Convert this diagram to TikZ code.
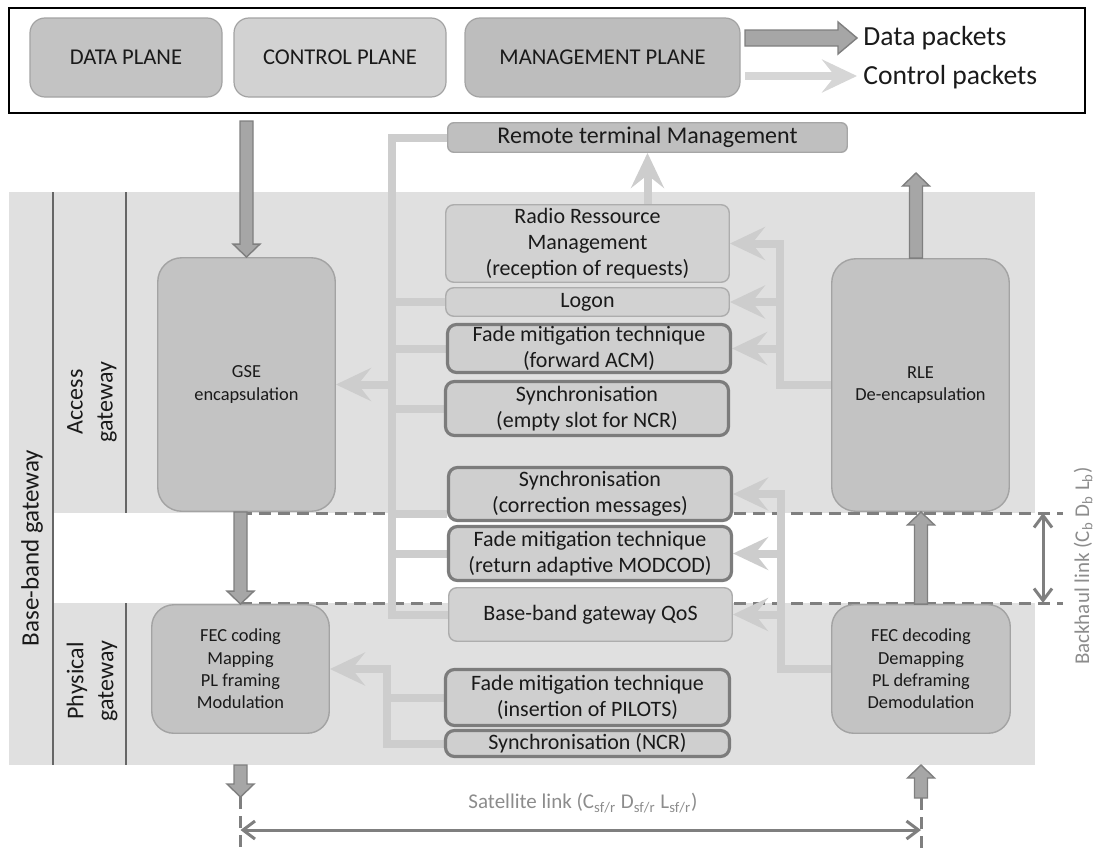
\documentclass[tikz,border=0pt]{standalone}
\usepackage{fontspec}
\setmainfont{Carlito}
\usetikzlibrary{arrows.meta,calc}
\pgfdeclarelayer{bg}
\pgfsetlayers{bg,main}
\definecolor{bggray}{HTML}{E0E0E0}
\definecolor{boxgray}{HTML}{C3C3C3}
\definecolor{boxedge}{HTML}{A3A3A3}
\definecolor{lightfill}{HTML}{D2D2D2}
\definecolor{lightedge}{HTML}{ADADAD}
\definecolor{thickfill}{HTML}{CFCFCF}
\definecolor{thickedge}{HTML}{7C7C7C}
\definecolor{ctrlc}{HTML}{CDCDCD}
\definecolor{dataf}{HTML}{A6A6A6}
\definecolor{datae}{HTML}{7F7F7F}
\definecolor{dashc}{HTML}{7F7F7F}
\definecolor{labgray}{HTML}{8C8C8C}
\definecolor{sepc}{HTML}{666666}
\definecolor{txt}{HTML}{1A1A1A}
\newcommand\szmid{\fontsize{11}{13}\selectfont}
\newcommand\szsmall{\fontsize{9.2}{11.2}\selectfont}
\newcommand\szleg{\fontsize{11.3}{13}\selectfont}
\newcommand\szarr{\fontsize{13.8}{16}\selectfont}
\newcommand\szlab{\fontsize{12}{15}\selectfont}
\newcommand\szgray{\fontsize{10.5}{12}\selectfont}
\newcommand\blkdown[2]{\draw[dataarr] let \p1=#1, \p2=#2 in
  (\x1-3.25pt,\y1) -- (\x1-3.25pt,\y2+6.5pt) -- (\x1-6.75pt,\y2+6.5pt) -- (\x1,\y2)
  -- (\x1+6.75pt,\y2+6.5pt) -- (\x1+3.25pt,\y2+6.5pt) -- (\x1+3.25pt,\y1) -- cycle;}
\newcommand\blkup[2]{\draw[dataarr] let \p1=#1, \p2=#2 in
  (\x1-3.25pt,\y1) -- (\x1-3.25pt,\y2-6.5pt) -- (\x1-6.75pt,\y2-6.5pt) -- (\x1,\y2)
  -- (\x1+6.75pt,\y2-6.5pt) -- (\x1+3.25pt,\y2-6.5pt) -- (\x1+3.25pt,\y1) -- cycle;}
\begin{document}
\begin{tikzpicture}[x=0.5pt,y=-0.5pt,
  every node/.style={text=txt},
  planebox/.style={draw=boxedge, line width=0.6pt, rounded corners=7.5pt, inner sep=0pt, font=\szleg, minimum height=39.5pt},
  bigbox/.style={draw=boxedge, fill=boxgray, line width=0.7pt, rounded corners=12pt, align=center, inner sep=0pt, font=\szsmall},
  midlight/.style={draw=lightedge, fill=lightfill, line width=0.7pt, rounded corners=4pt, align=center, inner sep=0pt, font=\szmid},
  midthick/.style={draw=thickedge, fill=thickfill, line width=1.6pt, rounded corners=4.5pt, align=center, inner sep=0pt, font=\szmid},
  sidelab/.style={rotate=90, align=center, font=\szlab, inner sep=0pt},
  ctrl/.style={draw=ctrlc, line width=4pt},
  ctrlarr/.style={ctrl, -{Stealth[length=17.5pt,width=16.5pt,inset=6.5pt]}},
  dataarr/.style={fill=dataf, draw=datae, line width=0.7pt, line join=miter},
  dashln/.style={draw=dashc, line width=1.5pt, dash pattern=on 6pt off 3.5pt},
  dimarr/.style={draw=dashc, line width=1.5pt, {Straight Barb[length=6pt,width=9pt]}-{Straight Barb[length=6pt,width=9pt]}},
  sepln/.style={draw=sepc, line width=0.6pt}]
\useasboundingbox (0,0) rectangle (1097,851);
% ---------- background ----------
\begin{pgfonlayer}{bg}
\fill[bggray] (9,192) rectangle (1035,765);
\fill[white] (53,513) rectangle (1035,603);
\end{pgfonlayer}
% ---------- legend ----------
\draw[black, line width=0.8pt] (9,8) rectangle (1085,113);
\node[planebox, fill=boxgray, minimum width=96pt] (dp) at (126,57.5) {DATA PLANE};
\node[planebox, fill=lightfill, minimum width=106pt] (cp) at (340,57.5) {CONTROL PLANE};
\node[planebox, fill=black!26, minimum width=137.5pt] (mp) at (602.5,57.5) {MANAGEMENT PLANE};
\coordinate (dleg1) at (745,38);
\coordinate (dleg2) at (857,38);
\coordinate (cleg1) at (745,76);
\coordinate (cleg2) at (857,76);
\node[anchor=west, font=\szarr, inner sep=0pt] (dtxt) at (863,38) {Data packets};
\node[anchor=west, font=\szarr, inner sep=0pt] (ctxt) at (863,77) {Control packets};
\draw[dataarr] let \p1=(dleg1), \p2=(dleg2) in
  (\x1,\y1+4pt) -- (\x2-9.5pt,\y1+4pt) -- (\x2-9.5pt,\y1+8pt) -- (\x2,\y2)
  -- (\x2-9.5pt,\y1-8pt) -- (\x2-9.5pt,\y1-4pt) -- (\x1,\y1-4pt) -- cycle;
\draw[ctrlarr, draw=black!16] (cleg1) -- (cleg2);
% ---------- side labels ----------
\draw[sepln] (53,192) -- (53,765);
\draw[sepln] (126,192) -- (126,513);
\draw[sepln] (126,603) -- (126,765);
\node[sidelab, font=\fontsize{12.5}{15}\selectfont] (bbg) at (32,548) {Base-band gateway};
\node[sidelab] (acc) at (92,402) {Access\\gateway};
\node[sidelab] (phy) at (92,681) {Physical\\gateway};
% ---------- big boxes ----------
\node[bigbox, minimum width=88.75pt, minimum height=126.75pt] (gse) at (246.5,384.5) {GSE\\encapsulation};
\node[bigbox, minimum width=88.75pt, minimum height=126.25pt] (rle) at (920.5,385) {RLE\\De-encapsulation};
\node[bigbox, rounded corners=11pt, minimum width=88.75pt, minimum height=64.25pt] (fec) at (240.5,669) {FEC coding\\Mapping\\PL framing\\Modulation};
\node[bigbox, rounded corners=11pt, minimum width=89.25pt, minimum height=64.25pt] (fecd) at (921,669) {FEC decoding\\Demapping\\PL deframing\\Demodulation};
% ---------- middle column ----------
\node[midlight, fill=black!25, draw=black!35, rounded corners=3pt, minimum width=199.75pt, minimum height=14.75pt, font=\fontsize{12}{14}\selectfont] (remote) at (647.5,137.5) {Remote terminal Management};
\node[midlight, minimum width=141.75pt, minimum height=38.75pt] (rrm) at (587.5,243.5) {Radio Ressource\\Management\\(reception of requests)};
\node[midlight, minimum width=141.75pt, minimum height=14.25pt] (logon) at (587.5,302) {Logon};
\node[midthick, minimum width=141.5pt, minimum height=24pt] (ffwd) at (589,348.5) {Fade mitigation technique\\(forward ACM)};
\node[midthick, minimum width=141.5pt, minimum height=27pt] (sempty) at (587,408.5) {Synchronisation\\(empty slot for NCR)};
\node[midthick, minimum width=141.5pt, minimum height=26.5pt] (scorr) at (590,494) {Synchronisation\\(correction messages)};
\node[midthick, minimum width=141.5pt, minimum height=27pt] (fret) at (590,553.5) {Fade mitigation technique\\(return adaptive MODCOD)};
\node[midlight, minimum width=141.75pt, minimum height=26.75pt] (qos) at (590.5,614.5) {Base-band gateway QoS};
\node[midthick, minimum width=142pt, minimum height=28pt] (pil) at (587.5,697.5) {Fade mitigation technique\\(insertion of PILOTS)};
\node[midthick, minimum width=142pt, minimum height=13pt] (sncr) at (587.5,743.5) {Synchronisation (NCR)};
% ---------- helper coordinates ----------
\coordinate (lbx) at (392,0);
\coordinate (lbx2) at (387,0);
\coordinate (rbx) at (780,0);
\coordinate (rbx2) at (781,0);
\coordinate (scb) at (scorr.west |- 0,514);
\coordinate (dA1) at (240,513);
\coordinate (dA2) at (1063,513);
\coordinate (dB1) at (240,603);
\coordinate (dB2) at (1063,603);
\coordinate (gsetop) at (gse.north |- 0,121);
\coordinate (graybot) at (fec.south |- 0,765);
\coordinate (fecout) at (fec.south |- 0,797);
\coordinate (graybotr) at (fecd.south |- 0,765);
\coordinate (fecdin) at (fecd.south |- 0,798);
\coordinate (rleout) at (916,173);
\coordinate (bh1) at (1043,513);
\coordinate (bh2) at (1043,603);
\coordinate (sat1) at (fecout |- 0,830);
\coordinate (sat2) at (fecdin |- 0,830);
\coordinate (fecbot) at (fecout |- 0,851);
\coordinate (fecdbot) at (fecdin |- 0,851);
% ---------- lines behind boxes ----------
\begin{pgfonlayer}{bg}
\draw[dashln] (dA1) -- (dA2);
\draw[dashln] (dB1) -- (dB2);
% left bus
\draw[ctrl] (remote.west) -| (lbx |- qos.west) -- (qos.west);
\draw[ctrl] (lbx |- logon.west) -- (logon.west);
\draw[ctrl] (lbx |- ffwd.west) -- (ffwd.west);
\draw[ctrl] (lbx |- sempty.west) -- (sempty.west);
\draw[ctrl] (lbx |- scb) -- (scb);
\draw[ctrl] (lbx |- fret.west) -- (fret.west);
\draw[ctrlarr] (lbx |- gse.east) -- (gse.east);
% right upper bus
\draw[ctrlarr] (rle.west) -| (rbx |- rrm.east) -- (rrm.east);
\draw[ctrlarr] (rbx |- logon.east) -- (logon.east);
\draw[ctrlarr] (rbx |- ffwd.east) -- (ffwd.east);
% right lower bus
\draw[ctrlarr] (fecd.west) -| (rbx2 |- scorr.east) -- (scorr.east);
\draw[ctrlarr] (rbx2 |- fret.east) -- (fret.east);
\draw[ctrlarr] (rbx2 |- qos.east) -- (qos.east);
% lower left bus
\draw[ctrlarr] (sncr.west) -| (lbx2 |- fec.east) -- (fec.east);
\draw[ctrl] (pil.west) -- (lbx2 |- pil.west);
% RRM to remote management
\draw[ctrlarr] (remote.south |- rrm.north) -- (remote.south);
\end{pgfonlayer}
% ---------- data arrows ----------
\blkdown{(gsetop)}{(gse.north)}
\blkdown{(fec.north |- gse.south)}{(fec.north)}
\blkdown{(graybot)}{(fecout)}
\blkup{(fecdin)}{(graybotr)}
\blkup{(fecd.north)}{(fecd.north |- rle.south)}
\blkup{(rleout |- rle.north)}{(rleout)}
% ---------- link dimensions ----------
\draw[dashln] (fecout) -- (fecbot);
\draw[dashln] (fecdin) -- (fecdbot);
\draw[dimarr] (sat1) -- (sat2);
\draw[dimarr] (bh1) -- (bh2);
\node[font=\szgray, text=labgray, inner sep=0pt] (satlab) at (583,803) {Satellite link (C\textsubscript{sf/r} D\textsubscript{sf/r} L\textsubscript{sf/r})};
\node[font=\szgray, text=labgray, inner sep=0pt, rotate=90] (bhlab) at (1083,566) {Backhaul link (C\textsubscript{b} D\textsubscript{b} L\textsubscript{b})};
\end{tikzpicture}
\end{document}
